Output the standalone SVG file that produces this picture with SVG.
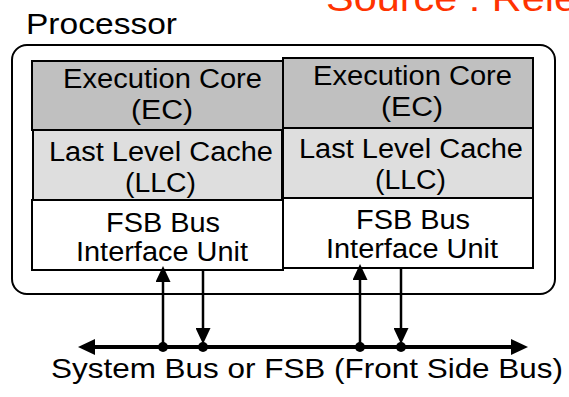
<svg xmlns="http://www.w3.org/2000/svg" width="569" height="397" viewBox="0 0 569 397">
<style>
text{font-family:"Liberation Sans",Arial,sans-serif;fill:#000}
.bt{font-size:27px}
.ec{fill:#c0c0c0;stroke:#000;stroke-width:2}
.llc{fill:#dedede;stroke:#000;stroke-width:2}
.fsb{fill:#fff;stroke:#000;stroke-width:2}
.wire{stroke:#000;stroke-width:2.5;fill:none}
.bus{stroke:#000;stroke-width:4;fill:none}
</style>
<defs>
<marker id="busHead" viewBox="0 0 17 16" refX="6" refY="8" markerWidth="17" markerHeight="16" markerUnits="userSpaceOnUse" orient="auto-start-reverse"><path d="M0,0 L17,8 L0,16 z" fill="#000"/></marker>
<marker id="head" viewBox="0 0 16 15" refX="6" refY="7.5" markerWidth="16" markerHeight="15" markerUnits="userSpaceOnUse" orient="auto"><path d="M0,0 L16,7.5 L0,15 z" fill="#000"/></marker>
</defs>
<rect width="569" height="397" fill="#fff"/>
<text id="source" x="326" y="11" font-size="37" textLength="251" lengthAdjust="spacingAndGlyphs" style="fill:#ff3300">Source : Rele</text>
<g id="processor">
<rect x="12" y="45" width="543" height="249" rx="15" ry="15" fill="none" stroke="#000" stroke-width="2"/>
<text x="26" y="34" font-size="29" textLength="151" lengthAdjust="spacingAndGlyphs">Processor</text>
</g>
<g id="ec1">
<rect class="ec" x="32" y="61" width="251" height="69"/>
<text class="bt" x="63" y="88" textLength="199" lengthAdjust="spacingAndGlyphs">Execution Core</text>
<text class="bt" x="131" y="119" textLength="62" lengthAdjust="spacingAndGlyphs">(EC)</text>
</g>
<g id="llc1">
<rect class="llc" x="33" y="130" width="249" height="70"/>
<text class="bt" x="49" y="161" textLength="224" lengthAdjust="spacingAndGlyphs">Last Level Cache</text>
<text class="bt" x="125" y="192" textLength="71" lengthAdjust="spacingAndGlyphs">(LLC)</text>
</g>
<g id="fsb1">
<rect class="fsb" x="32" y="200" width="251" height="70"/>
<text class="bt" x="106" y="232" textLength="114" lengthAdjust="spacingAndGlyphs">FSB Bus</text>
<text class="bt" x="76" y="261" textLength="172" lengthAdjust="spacingAndGlyphs">Interface Unit</text>
</g>
<g id="ec2">
<rect class="ec" x="283" y="58" width="250" height="70"/>
<text class="bt" x="313" y="85" textLength="199" lengthAdjust="spacingAndGlyphs">Execution Core</text>
<text class="bt" x="381" y="116" textLength="62" lengthAdjust="spacingAndGlyphs">(EC)</text>
</g>
<g id="llc2">
<rect class="llc" x="283" y="128" width="250" height="70"/>
<text class="bt" x="299" y="158" textLength="224" lengthAdjust="spacingAndGlyphs">Last Level Cache</text>
<text class="bt" x="375" y="189" textLength="71" lengthAdjust="spacingAndGlyphs">(LLC)</text>
</g>
<g id="fsb2">
<rect class="fsb" x="283" y="198" width="250" height="70"/>
<text class="bt" x="356" y="229" textLength="114" lengthAdjust="spacingAndGlyphs">FSB Bus</text>
<text class="bt" x="326" y="258" textLength="172" lengthAdjust="spacingAndGlyphs">Interface Unit</text>
</g>
<g id="connectors">
<line class="bus" x1="89" y1="347" x2="517" y2="347" marker-start="url(#busHead)" marker-end="url(#busHead)"/>
<line class="wire" x1="163" y1="347" x2="163" y2="276" marker-end="url(#head)"/>
<line class="wire" x1="203" y1="270" x2="203" y2="334" marker-end="url(#head)"/>
<line class="wire" x1="360" y1="347" x2="360" y2="274" marker-end="url(#head)"/>
<line class="wire" x1="401" y1="268" x2="401" y2="334" marker-end="url(#head)"/>
<circle cx="163" cy="347" r="5"/>
<circle cx="203" cy="347" r="5"/>
<circle cx="360" cy="347" r="5"/>
<circle cx="401" cy="347" r="5"/>
</g>
<g id="bus">
<text x="51" y="378" font-size="28" textLength="512" lengthAdjust="spacingAndGlyphs">System Bus or FSB (Front Side Bus)</text>
</g>
</svg>
